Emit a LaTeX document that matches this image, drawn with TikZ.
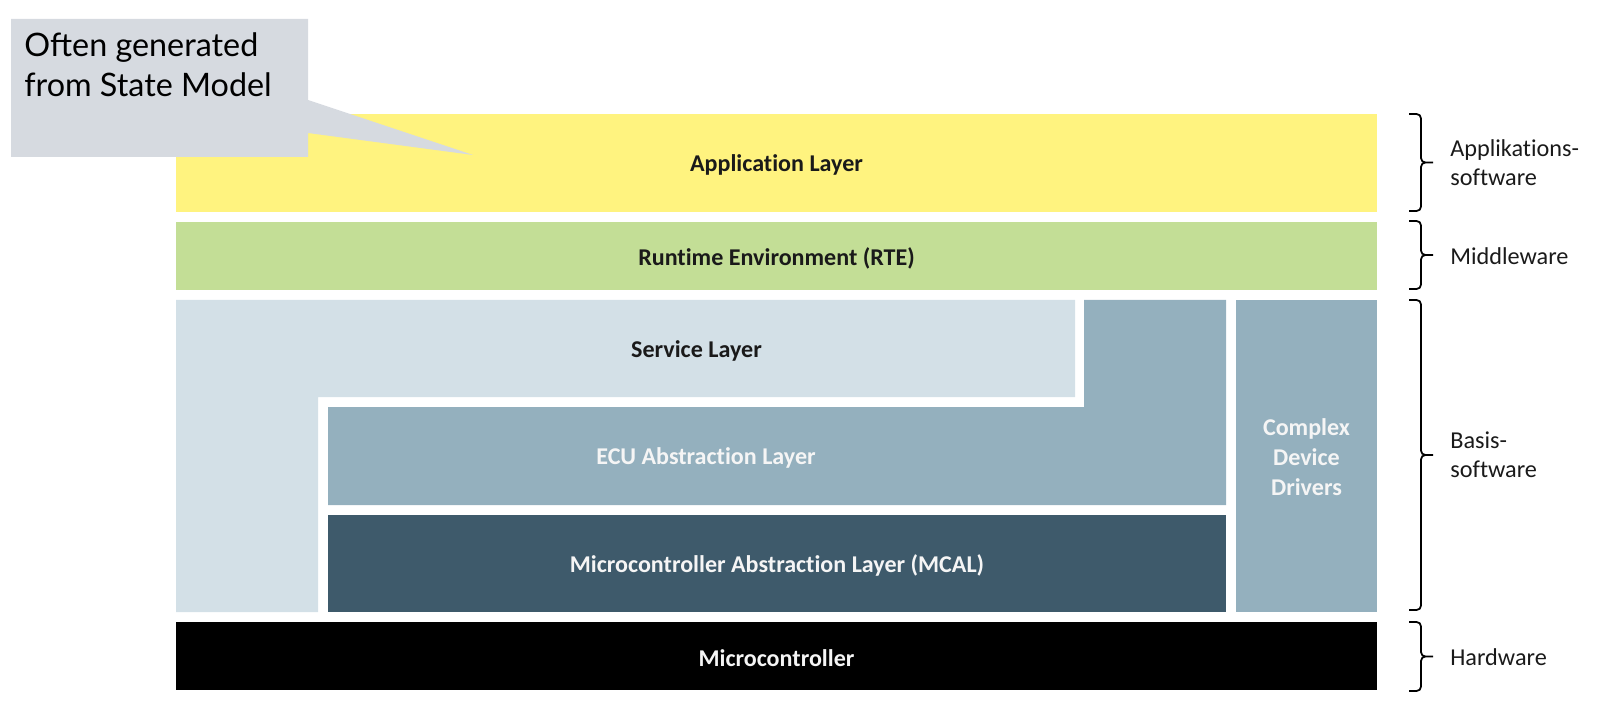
\documentclass[tikz,border=0pt]{standalone}
\usepackage{fontspec}
\setmainfont{Carlito}[Ligatures=NoCommon]
\newfontfamily\notefont{Lato}
\usetikzlibrary{calc}
\definecolor{appyellow}{HTML}{FFF37F}
\definecolor{rtegreen}{HTML}{C3DE96}
\definecolor{srvblue}{HTML}{D3E0E7}
\definecolor{ecublue}{HTML}{94B0BE}
\definecolor{mcalblue}{HTML}{3E5A6B}
\definecolor{notegray}{HTML}{D6DAE0}
\definecolor{inkdark}{HTML}{1A1A1A}
\tikzset{%
	layer/.style={font=\bfseries\fontsize{13.7}{17}\selectfont,align=center,text=inkdark},
	layerw/.style={layer,text=white!96!black},
	side/.style={font=\fontsize{13.8}{16.4}\selectfont,align=left,anchor=west,inner sep=0pt,text=inkdark},
	sidebrace/.style={line width=1pt,rounded corners=2.5pt,to path={%
	-- ++(12,0) |- ($(\tikztostart)!0.5!(\tikztotarget)+(24,0)$)
	(\tikztotarget) -- ++(12,0) |- ($(\tikztostart)!0.5!(\tikztotarget)+(24,0)$)}}
}
\begin{document}
\begin{tikzpicture}[x=0.02cm,y=-0.02cm]
				\useasboundingbox (0,0) rectangle (1600,726);
				\fill [appyellow] (176,114) rectangle (1377,212);
				\fill [rtegreen] (176,222) rectangle (1377,290);
				\fill [srvblue] (176,300) -- (1075,300) -- (1075,397) -- (318,397) -- (318,612) -- (176,612) -- cycle;
				\fill [ecublue] (1084,300) -- (1226,300) -- (1226,505) -- (328,505) -- (328,407) -- (1084,407) -- cycle;
				\fill [mcalblue] (328,515) rectangle (1226,612);
				\fill [ecublue] (1236,300) rectangle (1377,612);
				\fill [black] (176,622) rectangle (1377,690);
				\node [layer] (app) at (776.5,165) {Application Layer};
				\node [layer] (rte) at (776.5,258) {Runtime Environment (RTE)};
				\node [layer] (srv) at (696.5,351) {Service Layer};
				\node [layerw] (ecu) at (706,458) {ECU Abstraction Layer};
				\node [layerw] (mcal) at (777,565.5) {Microcontroller Abstraction Layer (MCAL)};
				\node [layerw] (cdd) at (1306.5,457) {Complex\\Device\\Drivers};
				\node [layerw] (mc) at (776.5,658) {Microcontroller};
				\coordinate (b1) at (1409,114); \coordinate (b2) at (1409,211);
				\coordinate (b3) at (1409,221); \coordinate (b4) at (1409,289);
				\coordinate (b5) at (1409,300); \coordinate (b6) at (1409,610);
				\coordinate (b7) at (1409,622); \coordinate (b8) at (1409,691);
				\draw [sidebrace] (b1) to (b2);
				\draw [sidebrace] (b3) to (b4);
				\draw [sidebrace] (b5) to (b6);
				\draw [sidebrace] (b7) to (b8);
				\node [side] (appsw) at (1450,163) {Applikations-\\software};
				\node [side] (mid) at (1450,256) {Middleware};
				\node [side] (basis) at (1450,455) {Basis-\\software};
				\node [side] (hw) at (1450,657) {Hardware};
				\fill [notegray] (11,19) -- (308,19) -- (308,100) -- (473,155) -- (308,133) -- (308,157) -- (11,157) -- cycle;
				\node [font=\notefont\fontsize{18.4}{23}\selectfont,align=left,anchor=north west,inner sep=0pt] (note) at (24,32) {Often generated\\from State Model};
			\end{tikzpicture}
\end{document}
